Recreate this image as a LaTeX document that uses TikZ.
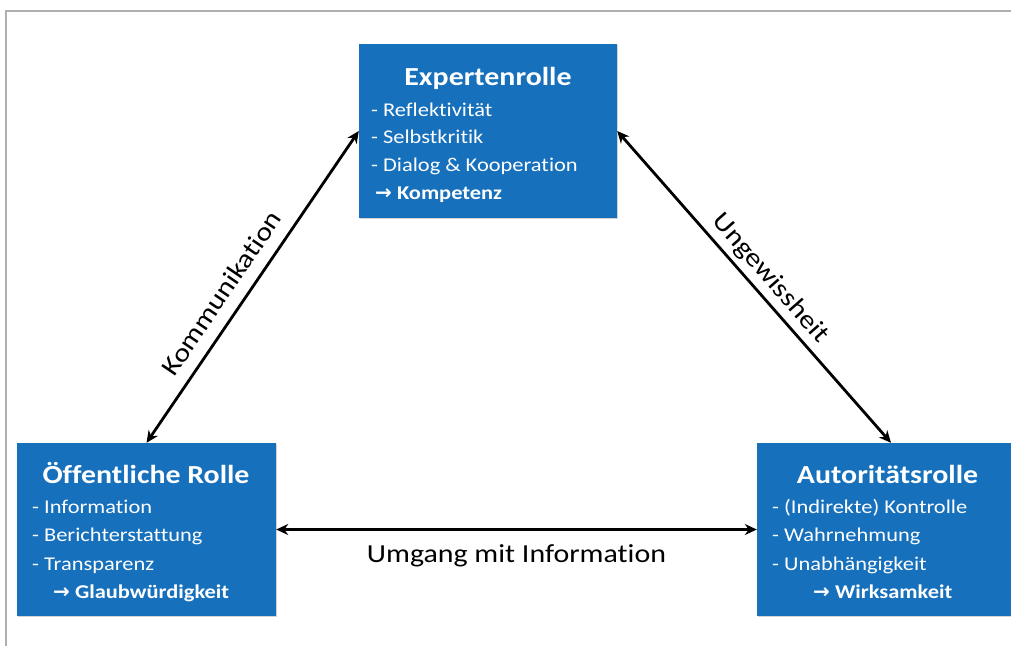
\documentclass[tikz,border=0pt]{standalone}
\usepackage{fontspec}
\setmainfont{Carlito}[FakeStretch=1.15, Ligatures={NoCommon,NoRequired,NoContextual}]
\newfontfamily\arrowfont{DejaVu Sans}
\usetikzlibrary{arrows.meta,shadows}
\definecolor{boxblue}{RGB}{22,112,188}
\definecolor{framegray}{RGB}{175,175,175}
\newcommand{\resarrow}{{\arrowfont\bfseries\fontsize{20}{22}\selectfont →}}
\tikzset{
  rolebox/.style={draw=none, fill=boxblue, rectangle, inner sep=0pt,
    drop shadow={shadow xshift=1.2pt, shadow yshift=-1.2pt, opacity=0.35}},
  roletitle/.style={text=white, inner sep=0pt, anchor=base,
    font=\fontsize{26}{28}\selectfont\bfseries},
  roleitem/.style={text=white, inner sep=0pt, anchor=base west,
    font=\fontsize{19.5}{22}\selectfont},
  roleresult/.style={roleitem, font=\fontsize{19.5}{22}\selectfont\bfseries},
  link/.style={line width=2.8pt, black,
    {Stealth[length=12pt,width=11pt]}-{Stealth[length=12pt,width=11pt]}},
  linklabel/.style={font=\fontsize{26}{28}\selectfont, inner sep=0pt}
}
\begin{document}
\begin{tikzpicture}[x=1pt,y=-1pt]
\useasboundingbox (0,0) rectangle (1011,646);
% frame
\draw[framegray, line width=1.3pt] (6,646) -- (6,11) -- (1011,11);

% boxes
\node[rolebox, minimum width=258pt, minimum height=174pt] (exp) at (488,131) {};
\node[rolebox, minimum width=259pt, minimum height=173pt] (oeff) at (146.5,529.5) {};
\node[rolebox, minimum width=268pt, minimum height=173pt] (aut) at (891,529.5) {};

% Expertenrolle
\node[roletitle] (expT) at (488,85) {Expertenrolle};
\node[roleitem] (exp1) at (371,116) {- Reflektivität};
\node[roleitem] (exp2) at (371,143.5) {- Selbstkritik};
\node[roleitem] (exp3) at (371,171) {- Dialog \& Kooperation};
\node[roleresult] (exp4) at (375,199) {\resarrow\ Kompetenz};

% Oeffentliche Rolle
\node[roletitle] (oeffT) at (146,483) {Öffentliche Rolle};
\node[roleitem] (oeff1) at (32,513.5) {- Information};
\node[roleitem] (oeff2) at (32,541.5) {- Berichterstattung};
\node[roleitem] (oeff3) at (32,570) {- Transparenz};
\node[roleresult] (oeff4) at (53,598.5) {\resarrow\ Glaubwürdigkeit};

% Autoritaetsrolle
\node[roletitle] (autT) at (887.5,483) {Autoritätsrolle};
\node[roleitem] (aut1) at (772,513.5) {- (Indirekte) Kontrolle};
\node[roleitem] (aut2) at (772,541.5) {- Wahrnehmung};
\node[roleitem] (aut3) at (772,570) {- Unabhängigkeit};
\node[roleresult] (aut4) at (813,598.5) {\resarrow\ Wirksamkeit};

% connectors
\draw[link] (oeff.north) -- node[linklabel, sloped, pos=0.44, above=12pt] (lk) {Kommunikation} (exp.west);
\draw[link] (exp.east) -- node[linklabel, sloped, pos=0.51, above=5pt] (lu) {Ungewissheit} (aut.north);
\draw[link] (oeff.east) -- node[linklabel, below=14pt] (li) {Umgang mit Information} (aut.west);
\end{tikzpicture}
\end{document}
